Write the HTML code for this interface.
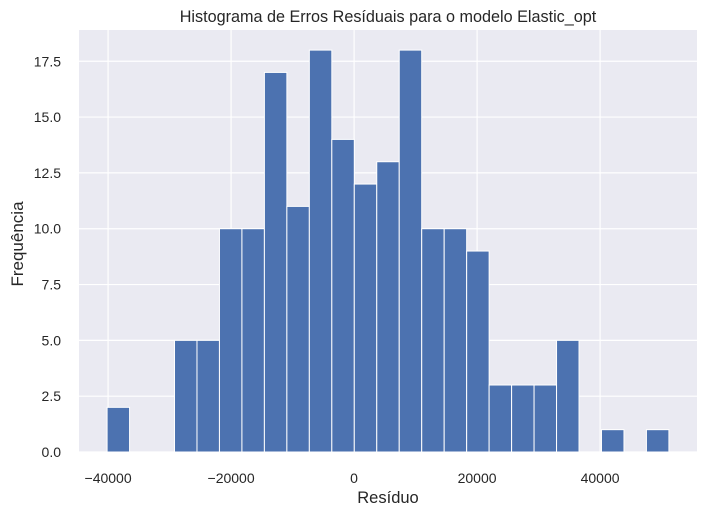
<!DOCTYPE html>
<html><head><meta charset="utf-8">
<style>
body{margin:0;background:#fff;}
svg text{font-family:"Liberation Sans",sans-serif;fill:#262626;}
</style></head>
<body>
<svg id="chart" width="708" height="516">
<rect x="79" y="30" width="618" height="422" fill="#eaeaf2"/>
<g id="grid"></g>
<g id="bars"></g>
<g id="ticks"></g>
<text x="388" y="22" text-anchor="middle" font-size="16.2">Histograma de Erros Resíduais para o modelo Elastic_opt</text>
<text x="388" y="503" text-anchor="middle" font-size="16.5">Resíduo</text>
<text x="23" y="244" text-anchor="middle" font-size="17" transform="rotate(-90 23 244)">Frequência</text>
</svg>
<script>
const counts = [2,0,0,5,5,10,10,17,11,18,14,12,13,18,10,10,9,3,3,3,5,0,1,0,1];
const binMin = -40160;
const binMax = 51190;
const xTicks = [-40000,-20000,0,20000,40000];
const xTickLabels = ["−40000","−20000","0","20000","40000"];
const yTicks = [0,2.5,5,7.5,10,12.5,15,17.5];
const yTickLabels = ["0.0","2.5","5.0","7.5","10.0","12.5","15.0","17.5"];

const L=79,R=697,T=30,B=452;
const span=binMax-binMin;
const x0=binMin-span*0.05, x1=binMax+span*0.05;
const yMax=Math.max(...counts)*1.05;
const X=v=>L+(v-x0)/(x1-x0)*(R-L);
const Y=v=>B-v/yMax*(B-T);
const NS="http://www.w3.org/2000/svg";
const grid=document.getElementById('grid'),bars=document.getElementById('bars'),ticks=document.getElementById('ticks');
function mk(tag,attrs,parent){const e=document.createElementNS(NS,tag);for(const k in attrs)e.setAttribute(k,attrs[k]);parent.appendChild(e);return e;}
xTicks.forEach((v,i)=>{
  const g=mk('line',{x1:X(v),x2:X(v),y1:T,y2:B,stroke:'#fff','stroke-width':1.2},grid);
  
  
  const t=mk('text',{x:X(v),y:B+31,'text-anchor':'middle','font-size':14},ticks);
  t.textContent=xTickLabels[i];
  
  
});
yTicks.forEach((v,i)=>{
  const g=mk('line',{x1:L,x2:R,y1:Y(v),y2:Y(v),stroke:'#fff','stroke-width':1.2},grid);
  
  
  const t=mk('text',{x:L-18,y:Y(v)+5,'text-anchor':'end','font-size':14},ticks);
  t.textContent=yTickLabels[i];
  
  
});
const bw=span/counts.length;
counts.forEach((c,i)=>{
  if(c<=0)return;
  const a=X(binMin+i*bw),b=X(binMin+(i+1)*bw);
  const r=mk('rect',{x:a,y:Y(c),width:b-a,height:B-Y(c),fill:'#4c72b0',stroke:'#fff','stroke-width':1},bars);
  
  
});
</script>
</body></html>
